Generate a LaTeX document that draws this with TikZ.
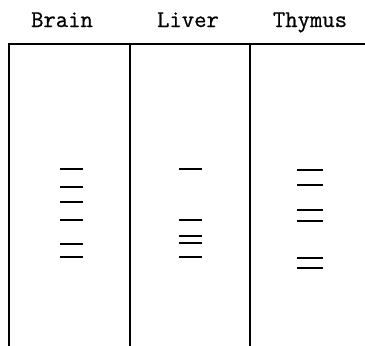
\documentclass[tikz,border=0pt]{standalone}
\usepackage{fontspec}
\newfontfamily\lanefont[FakeBold=0.8]{Latin Modern Mono}
\usepackage{tikz}
\usetikzlibrary{positioning}

\tikzset{
    lane/.style={line width=2.3pt},
    band/.style={line width=2.4pt},
    lanelabel/.style={font=\fontsize{24}{26}\selectfont\lanefont, anchor=base}
}

\begin{document}
\begin{tikzpicture}[x=1pt, y=-1pt]
    \useasboundingbox (0,0) rectangle (365,346);

    % lane names
    \node[lanelabel] (brain) at (62,27) {Brain};
    \node[lanelabel] (liver) at (188,27) {Liver};
    \node[lanelabel] (thymus) at (310,27) {Thymus};

    % gel outline
    \draw[lane] (9,346) -- (9,44) -- (365,44);
    \draw[lane] (130,44) -- (130,346);
    \draw[lane] (250,44) -- (250,346);

    % bands in each lane
    \foreach \y in {169,187,202,220,244,257}
        \draw[band] (60,\y) -- (83,\y);
    \foreach \y in {169,220,236,243,257}
        \draw[band] (179,\y) -- (202,\y);
    \foreach \y in {170,185,210,221,258,268}
        \draw[band] (297,\y) -- (323,\y);
\end{tikzpicture}
\end{document}
